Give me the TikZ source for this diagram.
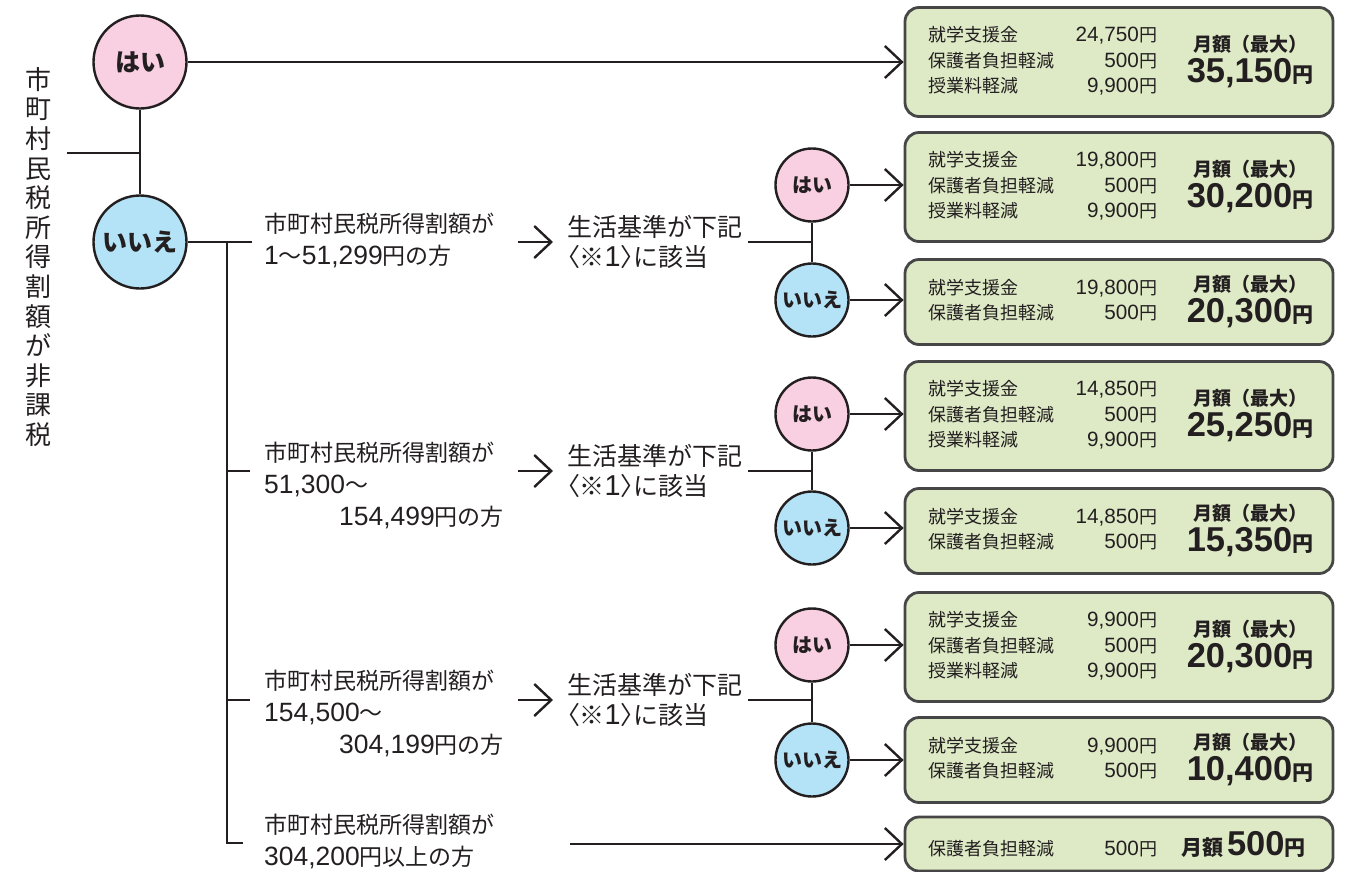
\documentclass[tikz,border=0pt]{standalone}
\usepackage{fontspec}
\setmainfont{Noto Sans CJK JP}
\newfontfamily\arialfont[Scale=1.15]{Liberation Sans}
\usepackage{array}
\usetikzlibrary{arrows.meta}
\usepackage{xcolor}
\definecolor{sakuraPink}{RGB}{249, 207, 226}
\definecolor{skyBlue}{RGB}{180, 226, 247}
\definecolor{leafGreen}{RGB}{222, 234, 198}
\definecolor{inkGray}{RGB}{35, 31, 32}
\definecolor{boxGray}{RGB}{70, 70, 70}
\newcolumntype{A}{>{\raggedleft\arraybackslash}p{89pt}}
\newcolumntype{C}{>{\centering\arraybackslash}p{130pt}}
\newcommand{\nums}[1]{{\arialfont #1}}
\newcommand{\maxhead}{{\bfseries\fontsize{19}{19}\selectfont 月額（最大）}}
\newcommand{\monthly}[1]{{\arialfont\bfseries\fontsize{30}{30}\selectfont #1}{\bfseries\fontsize{21}{21}\selectfont 円}}
\newcommand{\bracketnote}{{\addfontfeature{RawFeature=+palt}〈}※\nums{1}{\addfontfeature{RawFeature=+palt}〉}に該当}

\begin{document}
\begin{tikzpicture}
    [
		x=1pt, y=-1pt,
		color=inkGray,
		line width=2.4pt,
		>={Straight Barb[length=17pt, width=32pt]},
		bigyes/.style={
			draw, circle, fill=sakuraPink, minimum size=93pt, inner sep=0,
			font=\bfseries\fontsize{25}{25}\selectfont
		},
		bigno/.style={bigyes, fill=skyBlue},
		yes/.style={
			draw, circle, fill=sakuraPink, minimum size=73pt, inner sep=0,
			font=\bfseries\fontsize{20}{20}\selectfont
		},
		no/.style={yes, fill=skyBlue},
		income/.style={inner sep=0, anchor=west, font=\fontsize{23}{32}\selectfont},
		need/.style={inner sep=0, anchor=west, align=left, font=\fontsize{25}{30}\selectfont},
		benefit/.style={
			draw=boxGray, line width=2.8pt, fill=leafGreen, rounded corners=14pt,
			minimum width=428pt, inner sep=0, font=\fontsize{18}{25.5}\selectfont
		}
	]

\useasboundingbox (0,0) rectangle (1352,871);

% Question
\node (tax) [inner sep=0, align=center, font=\fontsize{26}{29.6}\selectfont]
	at (38,257) {市\\町\\村\\民\\税\\所\\得\\割\\額\\が\\非\\課\\税};
\node (yes0) [bigyes] at (140,62) {はい};
\node (no0) [bigno] at (140,242) {いいえ};
\coordinate (j0) at (140,153);

% Income brackets
\node (income1) [income] at (263,242)
	{\begin{tabular}{@{}l@{}}市町村民税所得割額が\\\nums{1}～\nums{51,299}円の方\end{tabular}};
\node (income2) [income] at (263,487)
	{\begin{tabular}{@{}l@{}}市町村民税所得割額が\\\nums{51,300}～\\\hspace*{75pt}\nums{154,499}円の方\end{tabular}};
\node (income3) [income] at (263,715)
	{\begin{tabular}{@{}l@{}}市町村民税所得割額が\\\nums{154,500}～\\\hspace*{75pt}\nums{304,199}円の方\end{tabular}};
\node (income4) [income] at (263,843)
	{\begin{tabular}{@{}l@{}}市町村民税所得割額が\\\nums{304,200}円以上の方\end{tabular}};

\node (need1) [need] at (566,242) {生活基準が下記\\\bracketnote};
\node (need2) [need] at (566,471) {生活基準が下記\\\bracketnote};
\node (need3) [need] at (566,700) {生活基準が下記\\\bracketnote};

\node (yes1) [yes] at (812,185) {はい};
\node (no1) [no] at (812,300) {いいえ};
\node (yes2) [yes] at (812,414) {はい};
\node (no2) [no] at (812,528) {いいえ};
\node (yes3) [yes] at (812,645) {はい};
\node (no3) [no] at (812,760) {いいえ};

% Benefits
\node (r1) [benefit, minimum height=109pt] at (1119,62) {\makebox[428pt][l]{\hspace*{23pt}%
	\begin{tabular}{@{}p{140pt}@{}A@{}}就学支援金 & \nums{24,750}円\\保護者負担軽減 & \nums{500}円\\授業料軽減 & \nums{9,900}円\end{tabular}%
	\hspace{28pt}\begin{tabular}{@{}C@{}}\maxhead\\\monthly{35,150}\end{tabular}}};
\node (r2) [benefit, minimum height=109pt] at (1119,187) {\makebox[428pt][l]{\hspace*{23pt}%
	\begin{tabular}{@{}p{140pt}@{}A@{}}就学支援金 & \nums{19,800}円\\保護者負担軽減 & \nums{500}円\\授業料軽減 & \nums{9,900}円\end{tabular}%
	\hspace{28pt}\begin{tabular}{@{}C@{}}\maxhead\\\monthly{30,200}\end{tabular}}};
\node (r3) [benefit, minimum height=85pt] at (1119,302) {\makebox[428pt][l]{\hspace*{23pt}%
	\begin{tabular}{@{}p{140pt}@{}A@{}}就学支援金 & \nums{19,800}円\\保護者負担軽減 & \nums{500}円\end{tabular}%
	\hspace{28pt}\begin{tabular}{@{}C@{}}\maxhead\\\monthly{20,300}\end{tabular}}};
\node (r4) [benefit, minimum height=109pt] at (1119,416) {\makebox[428pt][l]{\hspace*{23pt}%
	\begin{tabular}{@{}p{140pt}@{}A@{}}就学支援金 & \nums{14,850}円\\保護者負担軽減 & \nums{500}円\\授業料軽減 & \nums{9,900}円\end{tabular}%
	\hspace{28pt}\begin{tabular}{@{}C@{}}\maxhead\\\monthly{25,250}\end{tabular}}};
\node (r5) [benefit, minimum height=85pt] at (1119,531) {\makebox[428pt][l]{\hspace*{23pt}%
	\begin{tabular}{@{}p{140pt}@{}A@{}}就学支援金 & \nums{14,850}円\\保護者負担軽減 & \nums{500}円\end{tabular}%
	\hspace{28pt}\begin{tabular}{@{}C@{}}\maxhead\\\monthly{15,350}\end{tabular}}};
\node (r6) [benefit, minimum height=109pt] at (1119,647) {\makebox[428pt][l]{\hspace*{23pt}%
	\begin{tabular}{@{}p{140pt}@{}A@{}}就学支援金 & \nums{9,900}円\\保護者負担軽減 & \nums{500}円\\授業料軽減 & \nums{9,900}円\end{tabular}%
	\hspace{28pt}\begin{tabular}{@{}C@{}}\maxhead\\\monthly{20,300}\end{tabular}}};
\node (r7) [benefit, minimum height=85pt] at (1119,760) {\makebox[428pt][l]{\hspace*{23pt}%
	\begin{tabular}{@{}p{140pt}@{}A@{}}就学支援金 & \nums{9,900}円\\保護者負担軽減 & \nums{500}円\end{tabular}%
	\hspace{28pt}\begin{tabular}{@{}C@{}}\maxhead\\\monthly{10,400}\end{tabular}}};
\node (r8) [benefit, minimum height=54pt] at (1119,844) {\makebox[428pt][l]{\hspace*{23pt}%
	\makebox[140pt][l]{保護者負担軽減}\makebox[89pt][r]{\nums{500}円}\hspace{24pt}%
	{\bfseries\fontsize{21}{21}\selectfont 月額}\hspace{4pt}\monthly{500}}};

% Lines
\draw (yes0) -- (no0);
\draw ([xshift=15pt]tax.east |- j0) -- (j0);
\draw [->] (yes0) -- (r1);

\coordinate (v0) at (227,242);
\draw ([xshift=-11pt]income1.west) -- (no0);
\draw (v0) |- ([xshift=-20pt]income4.west);
\draw (v0 |- need2) -- +(23,0);
\draw (v0 |- need3) -- +(23,0);

\draw [->] ([xshift=-48pt]need1.west) -- ([xshift=-13pt]need1.west);
\draw [->] ([xshift=-48pt]need2.west) -- ([xshift=-13pt]need2.west);
\draw [->] ([xshift=-48pt]need3.west) -- ([xshift=-13pt]need3.west);
\draw [->] ([xshift=75pt]income4.east |- r8) -- (r8.west);

\draw ([xshift=5pt]need1.east) -- (need1 -| yes1);
\draw (yes1) -- (no1);
\draw ([xshift=5pt]need2.east) -- (need2 -| yes2);
\draw (yes2) -- (no2);
\draw ([xshift=5pt]need3.east) -- (need3 -| yes3);
\draw (yes3) -- (no3);

\draw [->] (yes1) -- (yes1 -| r2.west);
\draw [->] (no1) -- (no1 -| r3.west);
\draw [->] (yes2) -- (yes2 -| r4.west);
\draw [->] (no2) -- (no2 -| r5.west);
\draw [->] (yes3) -- (yes3 -| r6.west);
\draw [->] (no3) -- (no3 -| r7.west);

\end{tikzpicture}
\end{document}
